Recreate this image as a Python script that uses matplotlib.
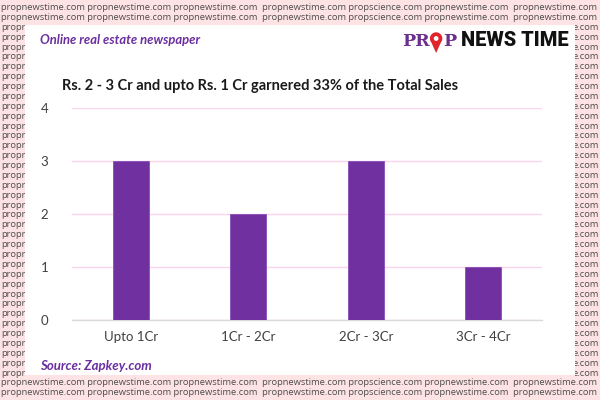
import matplotlib
matplotlib.use("Agg")
import matplotlib.pyplot as plt
from matplotlib.patches import Rectangle, PathPatch
from matplotlib.path import Path
from matplotlib.transforms import Bbox
import numpy as np

categories = ["Upto 1Cr", "1Cr - 2Cr", "2Cr - 3Cr", "3Cr - 4Cr"]
values = [3, 2, 3, 1]
yticks = [0, 1, 2, 3, 4]
title = "Rs. 2 - 3 Cr and upto Rs. 1 Cr garnered 33% of the Total Sales"
watermark = ("propnewstime.com propnewstime.com propnewstime.com  propnewstime.com "
             "propscience.com propnewstime.com  propnewstime.com")

W, H = 600, 400
fig = plt.figure(figsize=(6, 4), dpi=100)
fig.patch.set_facecolor("#fde3e3")
renderer = fig.canvas.get_renderer()

def fx(px):
    return px / W

def fy(py):
    return 1 - py / H

def fit_size(s, target_w, **kw):
    t = fig.text(0, 0, s, fontsize=10, **kw)
    w = t.get_window_extent(renderer).width
    t.remove()
    return 10 * target_w / w

# watermark
wm_kw = dict(family="Open Sans")
wm_size = fit_size(watermark, 598, **wm_kw)
wm_col = "#4d4d4d"
y = 7.5
while y < 400:
    if y < 22 or y > 378:
        fig.text(fx(1), fy(y), watermark, fontsize=wm_size, color=wm_col,
                 va="center", ha="left", zorder=0, **wm_kw)
    else:
        fig.text(fx(1), fy(y), "propr", fontsize=wm_size, color=wm_col,
                 va="center", ha="left", zorder=0, **wm_kw)
        tr = fig.text(fx(599), fy(y), "e.com", fontsize=wm_size, color=wm_col,
                      va="center", ha="right", zorder=0, **wm_kw)
        tr.set_clip_box(Bbox([[575, 0], [600, 400]]))
        tr.set_clip_on(True)
    y += 9.88

# white panel
fig.patches.append(Rectangle((fx(25), fy(375)), fx(550), 350 / H,
                             transform=fig.transFigure, facecolor="white",
                             edgecolor="none", zorder=1))

ax = fig.add_axes([fx(72), fy(320), fx(542 - 72), (320 - 108) / H], zorder=2)
ax.set_facecolor("none")
x = np.arange(len(categories))
ax.bar(x, values, width=0.31, color="#7030a0", edgecolor="#8a4cb8",
       linewidth=0.6, zorder=3)
ax.set_xlim(-0.5, len(categories) - 0.5)
ax.set_ylim(0, 4)
ax.set_yticks(yticks)
ax.set_xticks(x)
ax.set_xticklabels(categories)
for s in ["top", "right", "left"]:
    ax.spines[s].set_visible(False)
ax.spines["bottom"].set_color("#d9d9d9")
ax.spines["bottom"].set_linewidth(1.0)
ax.yaxis.grid(True, color="#fbd5ee", linewidth=1.0, zorder=0)
ax.set_axisbelow(True)
ax.tick_params(axis="both", length=0, labelsize=9.5, colors="#404040",
               labelfontfamily="Lato")
ax.tick_params(axis="y", pad=17)
ax.tick_params(axis="x", pad=8)

tkw = dict(fontweight="bold", family="Lato")
fig.text(fx(62), fy(86), title, fontsize=fit_size(title, 396, **tkw),
         color="#1a1a1a", va="center", ha="left", zorder=3, **tkw)

skw = dict(fontweight="bold", style="italic", family="Lato")
s1 = "Online real estate newspaper"
s2 = "Source: Zapkey.com"
fig.text(fx(40), fy(40), s1, fontsize=fit_size(s1, 160, **skw), color="#6b2fa0",
         va="center", ha="left", zorder=3, **skw)
fig.text(fx(40), fy(366), s2, fontsize=fit_size(s2, 112, **skw), color="#6b2fa0",
         va="center", ha="left", zorder=3, **skw)

# logo
ylogo = fy(41)
pkw = dict(fontweight="bold", family="DejaVu Serif")
tpr = fig.text(fx(402), ylogo, "PR", fontsize=12.5, color="#6b2f8f",
               va="center", ha="left", zorder=3, **pkw)
fig.canvas.draw()
e = tpr.get_window_extent(renderer)
r = 6.2
cx = e.x1 + r + 0.3
cy = H - 38.5
theta = np.linspace(np.pi * 1.22, np.pi * -0.22, 40)
verts = [(cx + r * np.cos(t), cy + r * np.sin(t)) for t in theta]
verts.append((cx, H - 53))
verts.append(verts[0])
codes = [Path.MOVETO] + [Path.LINETO] * (len(verts) - 2) + [Path.CLOSEPOLY]
pin = PathPatch(Path(verts, codes), facecolor="#e0242c", edgecolor="none",
                transform=None, zorder=3)
fig.patches.append(pin)
hole = plt.Circle((cx, cy), 2.4, transform=None, facecolor="white",
                  edgecolor="none", zorder=4)
fig.patches.append(hole)
fig.text((cx + r + 0.3) / W, ylogo, "P", fontsize=12.5, color="#6b2f8f",
         va="center", ha="left", zorder=3, **pkw)
nkw = dict(fontweight="heavy", family="Roboto")
fig.text(fx(461), ylogo, "NEWS TIME", fontsize=fit_size("NEWS TIME", 107, **nkw),
         color="#111111", va="center", ha="left", zorder=3, **nkw)

fig.savefig("out.png", dpi=100, facecolor=fig.get_facecolor())
